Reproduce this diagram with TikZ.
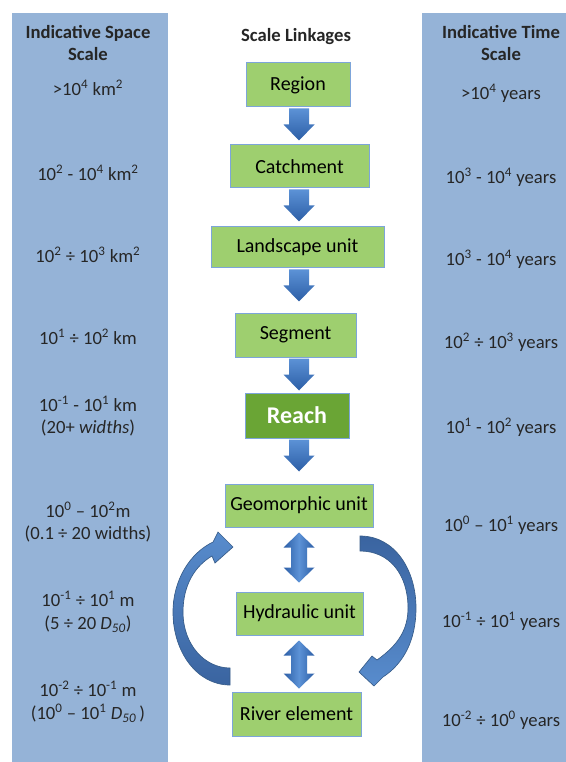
\documentclass[tikz,border=0pt]{standalone}
\usepackage{fontspec}
\setmainfont{Carlito}
\usetikzlibrary{calc}
\definecolor{colblue}{RGB}{149,179,215}
\definecolor{boxgreen}{RGB}{158,207,111}
\definecolor{boxborder}{RGB}{125,165,218}
\definecolor{reachgreen}{RGB}{106,165,53}
\definecolor{arrtop}{RGB}{92,146,214}
\definecolor{arrbot}{RGB}{44,94,166}
\definecolor{curvelight}{RGB}{88,140,205}
\definecolor{curvedark}{RGB}{58,100,160}
\definecolor{curveedge}{RGB}{56,93,138}
\newcommand\downarr[1]{%
  \shade[top color=arrtop, bottom color=arrbot]
    ($(axis|-#1.south)+(-10,1)$) -- ++(20,0) -- ++(0,16) -- ++(5.5,0)
    -- ++(-15.5,16) -- ++(-15.5,-16) -- ++(5.5,0) -- cycle;}
\newcommand\dblarr[2]{%
  \shade[left color=arrbot, right color=arrbot, middle color=arrtop]
    ($(axis|-#1.south)+(0,5)$) -- ++(15.5,15) -- ++(-7.5,0) -- ++(0,#2) -- ++(7.5,0)
    -- ++(-15.5,15) -- ++(-15.5,-15) -- ++(7.5,0) -- ++(0,-#2) -- ++(-7.5,0) -- cycle;}
\begin{document}
\begin{tikzpicture}[x=0.75pt,y=-0.75pt,
  font=\fontsize{14}{17}\selectfont,
  box/.style={draw=boxborder, line width=0.75pt, fill=boxgreen, inner sep=0pt, text=black,
    font=\fontsize{15}{18}\selectfont},
  txt/.style={align=center, inner sep=0pt, text=black!85}]
\useasboundingbox (0,0) rectangle (566,762);
\fill[white] (0,0) rectangle (566,762);
\fill[colblue] (12,13) rectangle (168,762);
\fill[colblue] (422,13) rectangle (566,762);
\coordinate (axis) at (299,0);

% left column
\node[txt] (s0) at (88,43) {\textbf{Indicative Space}\\\textbf{Scale}};
\node[txt] (s1) at (88,88) {>10\textsuperscript{4} km\textsuperscript{2}};
\node[txt] (s2) at (88,173) {10\textsuperscript{2} - 10\textsuperscript{4} km\textsuperscript{2}};
\node[txt] (s3) at (88,255) {10\textsuperscript{2} ÷ 10\textsuperscript{3} km\textsuperscript{2}};
\node[txt] (s4) at (88,337) {10\textsuperscript{1} ÷ 10\textsuperscript{2} km};
\node[txt] (s5) at (88,416) {10\textsuperscript{-1} - 10\textsuperscript{1} km\\(20+ \textit{widths})};
\node[txt] (s6) at (88,522) {10\textsuperscript{0} -- 10\textsuperscript{2}m\\(0.1 ÷ 20 widths)};
\node[txt] (s7) at (88,612) {10\textsuperscript{-1} ÷ 10\textsuperscript{1} m\\(5 ÷ 20 \textit{D}\textsubscript{\textit{50}})};
\node[txt] (s8) at (88,702) {10\textsuperscript{-2} ÷ 10\textsuperscript{-1} m\\(10\textsuperscript{0} -- 10\textsuperscript{1} \textit{D}\textsubscript{\textit{50}}\,)};

% right column
\node[txt] (t0) at (501,43) {\textbf{Indicative Time}\\\textbf{Scale}};
\node[txt] (t1) at (501,93) {>10\textsuperscript{4} years};
\node[txt] (t2) at (501,177) {10\textsuperscript{3} - 10\textsuperscript{4} years};
\node[txt] (t3) at (501,259) {10\textsuperscript{3} - 10\textsuperscript{4} years};
\node[txt] (t4) at (501,342) {10\textsuperscript{2} ÷ 10\textsuperscript{3} years};
\node[txt] (t5) at (501,427) {10\textsuperscript{1} - 10\textsuperscript{2} years};
\node[txt] (t6) at (501,525) {10\textsuperscript{0} -- 10\textsuperscript{1} years};
\node[txt] (t7) at (501,621) {10\textsuperscript{-1} ÷ 10\textsuperscript{1} years};
\node[txt] (t8) at (501,720) {10\textsuperscript{-2} ÷ 10\textsuperscript{0} years};

% centre
\node[txt] (head) at (296,37) {\textbf{Scale Linkages}};
\node[box, minimum width=78pt, minimum height=33pt] (region) at (298,85) {Region};
\node[box, minimum width=104.25pt, minimum height=32.25pt] (catch) at (299.5,166.5) {Catchment};
\node[box, minimum width=129.75pt, minimum height=30.75pt] (land) at (297.5,247.5) {Landscape unit};
\node[box, minimum width=90.75pt, minimum height=33pt] (seg) at (295.5,335) {Segment};
\node[box, fill=reachgreen, minimum width=78pt, minimum height=33.75pt, text=white, font=\fontsize{18}{20}\selectfont\bfseries] (reach) at (297,415.5) {Reach};
\node[box, minimum width=111pt, minimum height=32.25pt] (geo) at (299,505.5) {Geomorphic unit};
\node[box, minimum width=95.25pt, minimum height=32.25pt] (hyd) at (299.5,613.5) {Hydraulic unit};
\node[box, minimum width=96.75pt, minimum height=33pt] (river) at (296.5,714) {River element};

\downarr{region}
\downarr{catch}
\downarr{land}
\downarr{seg}
\downarr{reach}
\dblarr{geo}{20}
\dblarr{hyd}{18}

% left curved arrow (river element -> geomorphic unit)
\shade[top color=curvelight, bottom color=curvedark, draw=curveedge, line width=0.5pt]
  (230,685) .. controls (197,685) and (173,652) .. (173,612)
  .. controls (173,580) and (190,553) .. (213,542)
  -- (218,532) -- (233,547) -- (215,563) -- (212,556)
  .. controls (195,566) and (183,585) .. (183,612)
  .. controls (183,645) and (205,668) .. (230,668) -- cycle;

% right curved arrow (geomorphic unit -> river element)
\shade[top color=curvedark, bottom color=curvelight, draw=curveedge, line width=0.5pt]
  (360,536) .. controls (395,536) and (416,570) .. (416,608)
  .. controls (416,641) and (403,664) .. (383,677)
  -- (374,686) -- (359,672) -- (372,656) -- (377,660)
  .. controls (398,645) and (408,630) .. (408,608)
  .. controls (408,575) and (390,551) .. (360,551) -- cycle;
\end{tikzpicture}
\end{document}
